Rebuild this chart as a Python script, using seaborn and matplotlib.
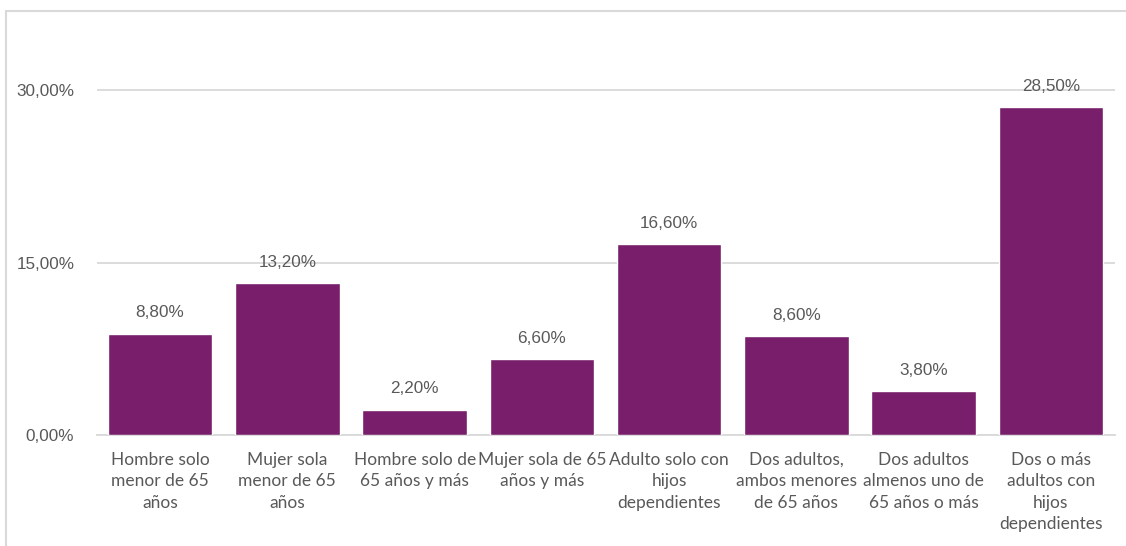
import matplotlib
matplotlib.use("Agg")
import matplotlib.pyplot as plt
from matplotlib.lines import Line2D
import seaborn as sns
import pandas as pd

categories = [
    "Hombre solo\nmenor de 65\naños",
    "Mujer sola\nmenor de 65\naños",
    "Hombre solo de\n65 años y más",
    "Mujer sola de 65\naños y más",
    "Adulto solo con\nhijos\ndependientes",
    "Dos adultos,\nambos menores\nde 65 años",
    "Dos adultos\nalmenos uno de\n65 años o más",
    "Dos o más\nadultos con\nhijos\ndependientes",
]
values = [8.80, 13.20, 2.20, 6.60, 16.60, 8.60, 3.80, 28.50]
yticks = [0, 15, 30]

sns.set_theme(style="white")
plt.rcParams["font.family"] = ["Liberation Sans", "DejaVu Sans"]

df = pd.DataFrame({"cat": categories, "val": values})

W, H = 1126, 546
fig = plt.figure(figsize=(W / 100, H / 100), dpi=100)
ax = fig.add_axes([96.5 / W, 1 - 435 / H, 1018 / W, 424 / H])

bar_color = "#781E6B"
sns.barplot(data=df, x="cat", y="val", color=bar_color, width=0.82,
            saturation=1, ax=ax, zorder=3)

ax.set_ylim(0, 36.87)
ax.set_xlim(-0.5, len(categories) - 0.5)
ax.set_yticks(yticks)
ax.set_yticklabels([f"{t:.2f}%".replace(".", ",") for t in yticks])
ax.yaxis.grid(True, color="#d9d9d9", linewidth=1.3, zorder=0)
ax.set_xlabel("")
ax.set_ylabel("")
for s in ["top", "right", "left"]:
    ax.spines[s].set_visible(False)
ax.spines["bottom"].set_color("#d9d9d9")
ax.spines["bottom"].set_linewidth(1.3)

ax.tick_params(axis="y", length=0, pad=16, labelsize=12.3, labelcolor="#595959")
ax.tick_params(axis="x", length=0, pad=12, labelcolor="#595959")
for lbl in ax.get_xticklabels():
    lbl.set_fontfamily(["Lato", "DejaVu Sans"])
    lbl.set_fontsize(12.5)
    lbl.set_linespacing(1.42)
    lbl.set_verticalalignment("top")

for i, v in enumerate(values):
    ax.annotate(f"{v:.2f}%".replace(".", ","), xy=(i, v), xytext=(0, 15),
                textcoords="offset points", ha="center", va="center",
                fontsize=12.3, color="#595959", zorder=4)

# chart frame
fx = 6 / W
fy = 1 - 11 / H
fig.add_artist(Line2D([fx, fx], [0, fy], transform=fig.transFigure,
                      color="#d9d9d9", linewidth=1.5))
fig.add_artist(Line2D([fx, 1], [fy, fy], transform=fig.transFigure,
                      color="#d9d9d9", linewidth=1.5))

fig.savefig("out.png", dpi=100)
